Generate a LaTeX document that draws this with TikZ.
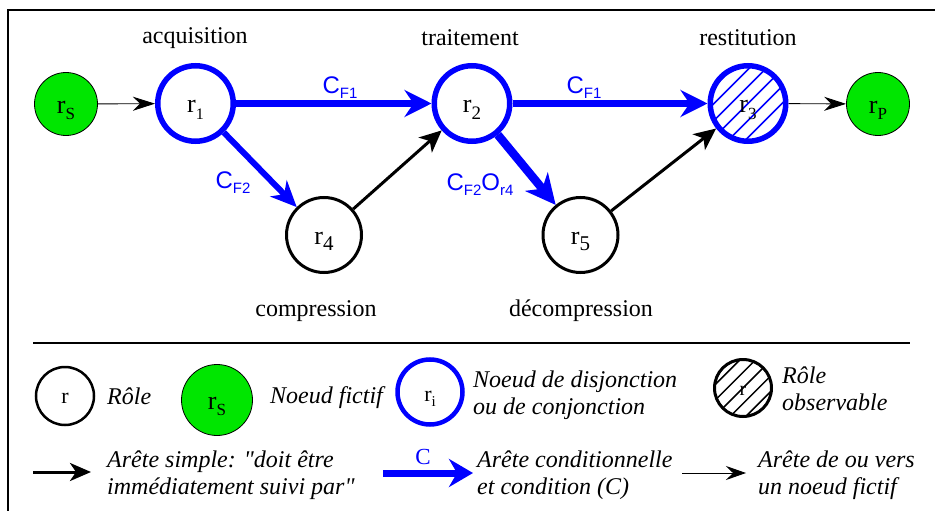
\documentclass[tikz,border=0pt]{standalone}
\usepackage{fontspec}
\setmainfont{Liberation Serif}
\setsansfont{Liberation Sans}
\usetikzlibrary{arrows.meta}
\definecolor{fgreen}{RGB}{0,230,0}
\definecolor{eblue}{RGB}{0,0,255}
\newcommand\rlab[2]{\fontsize{26}{26}\selectfont r\raisebox{-6pt}{\fontsize{#2}{#2}\selectfont #1}}
\newcommand\csub[1]{\raisebox{-5pt}{\fontsize{15}{15}\selectfont #1}}
\begin{document}
\begin{tikzpicture}[x=1pt,y=-1pt,
  role/.style={circle, draw=black, line width=3pt, minimum size=75pt, inner sep=0pt, text height=19pt, text depth=0pt},
  disj/.style={circle, draw=eblue, line width=5.5pt, minimum size=75.5pt, inner sep=0pt, text height=19pt, text depth=0pt},
  fict/.style={circle, draw=black, line width=0.8pt, fill=fgreen, minimum size=63pt, inner sep=0pt, text height=19pt, text depth=0pt},
  hatch/.style n args={2}{path picture={\foreach \k in {-5,...,5}{\draw[#1, line width=1.5pt] ([shift={(\k*#2,\k*#2)}]path picture bounding box.center) ++(-50,50) -- ++(100,-100);}}},
  lbl/.style={font=\fontsize{24}{28}\selectfont, inner sep=0pt},
  leg/.style={font=\fontsize{24}{27}\selectfont\itshape, anchor=west, align=left, inner sep=0pt},
  cedge/.style={eblue, line width=6pt, -{Stealth[length=27pt,width=27pt,inset=9pt]}},
  sedge/.style={black, line width=3pt, -{Stealth[length=22pt,width=20pt,inset=6pt]}},
  fedge/.style={black, line width=0.9pt, -{Stealth[length=22pt,width=14pt,inset=7pt]}},
  clbl/.style={text=eblue, font=\sffamily\fontsize{24}{24}\selectfont, inner sep=0pt}
]
\useasboundingbox (0,0) rectangle (935,511);
% frame
\draw[line width=2.5pt] (8,511) -- (8,10) -- (935,10);

% main graph nodes
\node[fict] (rS) at (66,104) {\rlab{S}{17}};
\node[disj] (r1) at (195.5,103.5) {\rlab{1}{16}};
\node[disj] (r2) at (472,103.5) {\rlab{2}{19}};
\node[disj, hatch={eblue}{8.5}] (r3) at (748,103.5) {\rlab{3}{17}};
\node[fict] (rP) at (878,104) {\rlab{P}{17}};
\node[role] (r4) at (324,235) {\rlab{4}{21}};
\node[role] (r5) at (580.5,235) {\rlab{5}{21}};

% labels
\node[lbl] (tacq) at (195,38) {acquisition};
\node[lbl] (ttrait) at (470,38) {traitement};
\node[lbl] (trest) at (748,38) {restitution};
\node[lbl] (tcomp) at (316,311) {compression};
\node[lbl] (tdecomp) at (581,311) {décompression};

% edges
\draw[fedge] (rS) -- (r1);
\draw[cedge] (r1) -- (r2);
\draw[cedge, -{Stealth[length=26pt,width=23pt,inset=8pt]}] (r1) -- (r4);
\draw[sedge] (r4) -- (r2);
\draw[cedge] (r2) -- (r3);
\draw[cedge, line width=8.5pt, -{Stealth[length=30pt,width=29pt,inset=9pt]}] (r2) -- (r5);
\draw[sedge] (r5) -- (r3);
\draw[fedge] (r3) -- (rP);

\node[clbl] (c12) at (340,88) {C\csub{F1}};
\node[clbl] (c23) at (584,88) {C\csub{F1}};
\node[clbl] (c14) at (233,183) {C\csub{F2}};
\node[clbl] (c25) at (480,185) {C\csub{F2}O\csub{r4}};

% separator
\coordinate (s1) at (33,343);
\coordinate (s2) at (910,343);
\draw[line width=1.6pt] (s1) -- (s2);

% legend row 1
\node[circle, draw=black, line width=2.5pt, minimum size=58pt, inner sep=0pt, text height=15pt, text depth=0pt] (lr) at (65,396) {\fontsize{22}{22}\selectfont r};
\node[leg] (lrole) at (107,396) {Rôle};
\node[fict, minimum size=71pt] (lfict) at (217,400) {\rlab{S}{17}};
\node[leg] (lnf) at (270,398) {Noeud fictif};
\node[disj, line width=4.5pt, minimum size=65pt] (ldisj) at (430,392) {\fontsize{22}{22}\selectfont r\raisebox{-5pt}{\fontsize{15}{15}\selectfont i}};
\node[leg] (lnd) at (473,395) {Noeud de disjonction\\ou de conjonction};
\node[circle, draw=black, line width=3pt, minimum size=57pt, inner sep=0pt, hatch={black}{7.8}, text height=15pt, text depth=0pt] (lobs) at (743,388) {\fontsize{20}{20}\selectfont r};
\node[leg] (lro) at (782,389) {Rôle\\observable};

% legend row 2
\coordinate (la1) at (33,472);
\coordinate (la2) at (91,472);
\draw[sedge, -{Stealth[length=21pt,width=18pt,inset=6pt]}] (la1) -- (la2);
\node[leg] (lsimple) at (107,475) {Arête simple: \textquotedbl doit être\\immédiatement suivi par\textquotedbl};
\coordinate (lb1) at (383,473);
\coordinate (lb2) at (473,473);
\draw[cedge, line width=7pt, -{Stealth[length=24pt,width=28pt,inset=8pt]}] (lb1) -- (lb2);
\node[text=eblue, font=\fontsize{23}{23}\selectfont, inner sep=0pt] (lc) at (423,457) {C};
\node[leg] (lcond) at (477,475) {Arête conditionnelle\\et condition (C)};
\coordinate (lf1) at (682,473);
\coordinate (lf2) at (746,473);
\draw[fedge, -{Stealth[length=20pt,width=14pt,inset=7pt]}] (lf1) -- (lf2);
\node[leg] (lfict2) at (758,475) {Arête de ou vers\\un noeud fictif};
\end{tikzpicture}
\end{document}
